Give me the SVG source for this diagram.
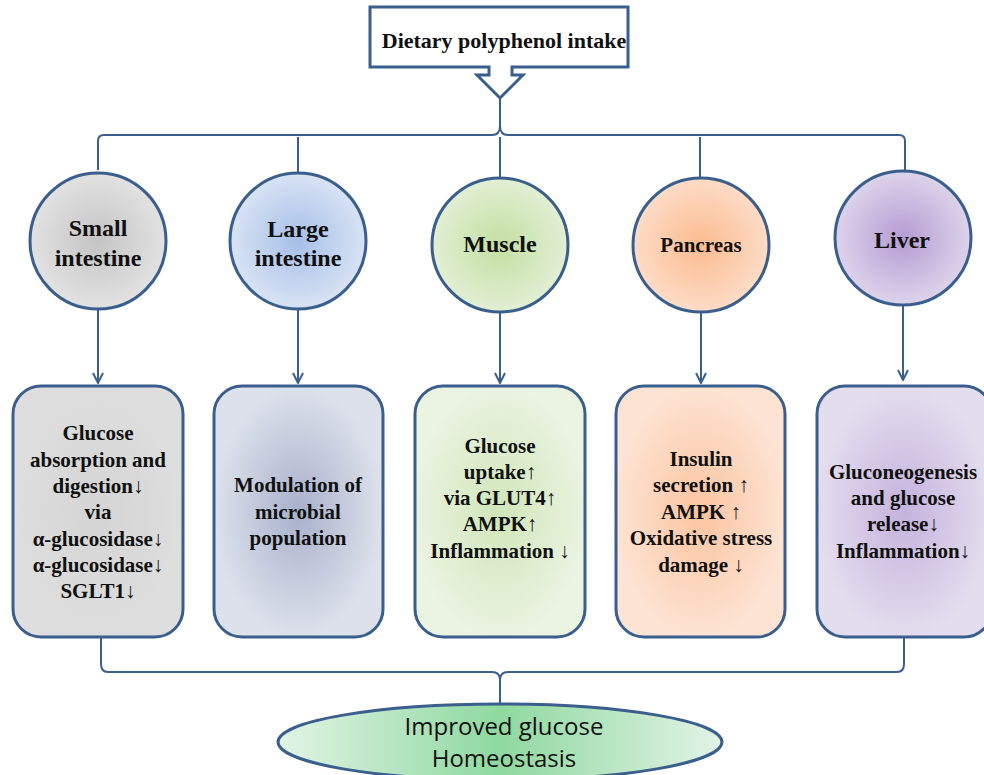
<svg xmlns="http://www.w3.org/2000/svg" width="984" height="775" viewBox="0 0 984 775">
  <style>
    .shape { stroke: #3B5F8C; stroke-width: 3; }
    .conn { fill: none; stroke: #3B5F8C; stroke-width: 2; }
    .lbl { font-family: "Liberation Serif", "Times New Roman", serif; font-weight: bold; fill: #111; text-anchor: middle; }
    .org { font-size: 24px; }
    .eff { font-size: 21px; }
    .out { font-family: "Open Sans", "Liberation Sans", sans-serif; font-size: 24px; fill: #111; text-anchor: middle; }
  </style>
  <defs>
    <radialGradient id="gGray"><stop offset="0" stop-color="#C4C4C4"/><stop offset="1" stop-color="#E2E2E2"/></radialGradient>
    <radialGradient id="gBlue"><stop offset="0" stop-color="#A6BFE8"/><stop offset="1" stop-color="#D8E3F4"/></radialGradient>
    <radialGradient id="gGreen"><stop offset="0" stop-color="#C3DFA2"/><stop offset="1" stop-color="#E2EFD4"/></radialGradient>
    <radialGradient id="gOrange"><stop offset="0" stop-color="#FBBB8F"/><stop offset="1" stop-color="#FDDCC7"/></radialGradient>
    <radialGradient id="gPurple"><stop offset="0" stop-color="#B59CD2"/><stop offset="1" stop-color="#DDD3EB"/></radialGradient>
    <radialGradient id="bGray"><stop offset="0" stop-color="#D4D4D4"/><stop offset="1" stop-color="#DEDEDE"/></radialGradient>
    <radialGradient id="bBlue"><stop offset="0" stop-color="#A8B1CB"/><stop offset="1" stop-color="#DDE1EB"/></radialGradient>
    <radialGradient id="bGreen"><stop offset="0" stop-color="#D0E6B9"/><stop offset="1" stop-color="#EBF3E1"/></radialGradient>
    <radialGradient id="bOrange"><stop offset="0" stop-color="#FBC4A0"/><stop offset="1" stop-color="#FDE3D3"/></radialGradient>
    <radialGradient id="bPurple"><stop offset="0" stop-color="#C4B2DC"/><stop offset="1" stop-color="#E4DDEE"/></radialGradient>
    <linearGradient id="gOut" x1="0" x2="1" y1="0" y2="0">
      <stop offset="0" stop-color="#E2F4E6"/><stop offset="0.5" stop-color="#8FD8A0"/><stop offset="1" stop-color="#E2F4E6"/>
    </linearGradient>
    <marker id="arr" viewBox="0 0 12 12" refX="11" refY="6" markerWidth="12" markerHeight="12" markerUnits="userSpaceOnUse" orient="auto">
      <path d="M1,1 L11,6 L1,11" fill="none" stroke="#3B5F8C" stroke-width="2"/>
    </marker>
  </defs>

  <!-- connectors -->
  <g id="connectors">
    <!-- upper brace spreading intake to the organs -->
    <path class="conn" d="M500,98 L500,126 Q500,135 492,135 L104,135 Q98,135 98,141 L98,170"/>
    <path class="conn" d="M500,126 Q500,135 508,135 L899,135 Q905,135 905,141 L905,170"/>
    <line class="conn" x1="298" y1="137" x2="298" y2="173"/>
    <line class="conn" x1="500" y1="137" x2="500" y2="178"/>
    <line class="conn" x1="700" y1="137" x2="700" y2="178"/>
    <!-- organ to effect arrows -->
    <line class="conn" x1="98" y1="310" x2="98" y2="383" marker-end="url(#arr)"/>
    <line class="conn" x1="298" y1="310" x2="298" y2="383" marker-end="url(#arr)"/>
    <line class="conn" x1="500" y1="312" x2="500" y2="383" marker-end="url(#arr)"/>
    <line class="conn" x1="701" y1="312" x2="701" y2="383" marker-end="url(#arr)"/>
    <line class="conn" x1="903" y1="305" x2="903" y2="380" marker-end="url(#arr)"/>
    <!-- lower brace gathering the effects -->
    <path class="conn" d="M101,637 L101,664 Q101,672 108,672 L492,672 Q500,672 500,680 L500,705"/>
    <path class="conn" d="M904,637 L904,664 Q904,672 897,672 L508,672 Q500,672 500,680"/>
  </g>

  <!-- intake callout -->
  <g id="intake">
    <path class="shape" fill="#FFFFFF" stroke-linejoin="miter" d="M370,7 L628,7 L628,67 L512,67 L512,75 L523,75 L500,98 L477,75 L489,75 L489,67 L370,67 Z"/>
    <text class="lbl" x="504" y="48" font-size="22">Dietary polyphenol intake</text>
  </g>

  <!-- organs -->
  <g id="small-intestine">
    <ellipse class="shape" cx="98" cy="241" rx="68" ry="68" fill="url(#gGray)"/>
    <text class="lbl org" x="98" y="236">Small</text>
    <text class="lbl org" x="98" y="266">intestine</text>
  </g>
  <g id="large-intestine">
    <ellipse class="shape" cx="298" cy="241" rx="68" ry="68" fill="url(#gBlue)"/>
    <text class="lbl org" x="298" y="237">Large</text>
    <text class="lbl org" x="298" y="266">intestine</text>
  </g>
  <g id="muscle">
    <ellipse class="shape" cx="500" cy="245" rx="68" ry="67" fill="url(#gGreen)"/>
    <text class="lbl org" x="500" y="252">Muscle</text>
  </g>
  <g id="pancreas">
    <ellipse class="shape" cx="701" cy="245" rx="68" ry="67" fill="url(#gOrange)"/>
    <text class="lbl" x="701" y="252" font-size="21">Pancreas</text>
  </g>
  <g id="liver">
    <ellipse class="shape" cx="903" cy="238" rx="68" ry="67" fill="url(#gPurple)"/>
    <text class="lbl org" x="902" y="248">Liver</text>
  </g>

  <!-- effects -->
  <g id="effect-small-intestine">
    <rect class="shape" x="13" y="386" width="170" height="251" rx="28" fill="url(#bGray)"/>
    <text class="lbl eff" x="98" y="440">Glucose</text>
    <text class="lbl eff" x="98" y="467">absorption and</text>
    <text class="lbl eff" x="98" y="493">digestion↓</text>
    <text class="lbl eff" x="98" y="519">via</text>
    <text class="lbl eff" x="98" y="546">α-glucosidase↓</text>
    <text class="lbl eff" x="98" y="572">α-glucosidase↓</text>
    <text class="lbl eff" x="98" y="598">SGLT1↓</text>
  </g>
  <g id="effect-large-intestine">
    <rect class="shape" x="214" y="386" width="169" height="251" rx="28" fill="url(#bBlue)"/>
    <text class="lbl eff" x="298" y="492">Modulation of</text>
    <text class="lbl eff" x="298" y="519">microbial</text>
    <text class="lbl eff" x="298" y="545">population</text>
  </g>
  <g id="effect-muscle">
    <rect class="shape" x="415" y="386" width="170" height="251" rx="28" fill="url(#bGreen)"/>
    <text class="lbl eff" x="500" y="453">Glucose</text>
    <text class="lbl eff" x="500" y="479">uptake↑</text>
    <text class="lbl eff" x="500" y="505">via GLUT4↑</text>
    <text class="lbl eff" x="500" y="531">AMPK↑</text>
    <text class="lbl eff" x="500" y="558">Inflammation ↓</text>
  </g>
  <g id="effect-pancreas">
    <rect class="shape" x="616" y="386" width="169" height="251" rx="28" fill="url(#bOrange)"/>
    <text class="lbl eff" x="701" y="466">Insulin</text>
    <text class="lbl eff" x="701" y="492">secretion ↑</text>
    <text class="lbl eff" x="701" y="519">AMPK ↑</text>
    <text class="lbl eff" x="701" y="545">Oxidative stress</text>
    <text class="lbl eff" x="701" y="572">damage ↓</text>
  </g>
  <g id="effect-liver">
    <rect class="shape" x="817" y="386" width="175" height="251" rx="28" fill="url(#bPurple)"/>
    <text class="lbl eff" x="903" y="479">Gluconeogenesis</text>
    <text class="lbl eff" x="903" y="505">and glucose</text>
    <text class="lbl eff" x="903" y="531">release↓</text>
    <text class="lbl eff" x="903" y="558">Inflammation↓</text>
  </g>

  <!-- outcome -->
  <g id="outcome">
    <ellipse class="shape" cx="500" cy="742" rx="222" ry="38" fill="url(#gOut)"/>
    <text class="out" x="504" y="735">Improved glucose</text>
    <text class="out" x="504" y="767">Homeostasis</text>
  </g>
</svg>
